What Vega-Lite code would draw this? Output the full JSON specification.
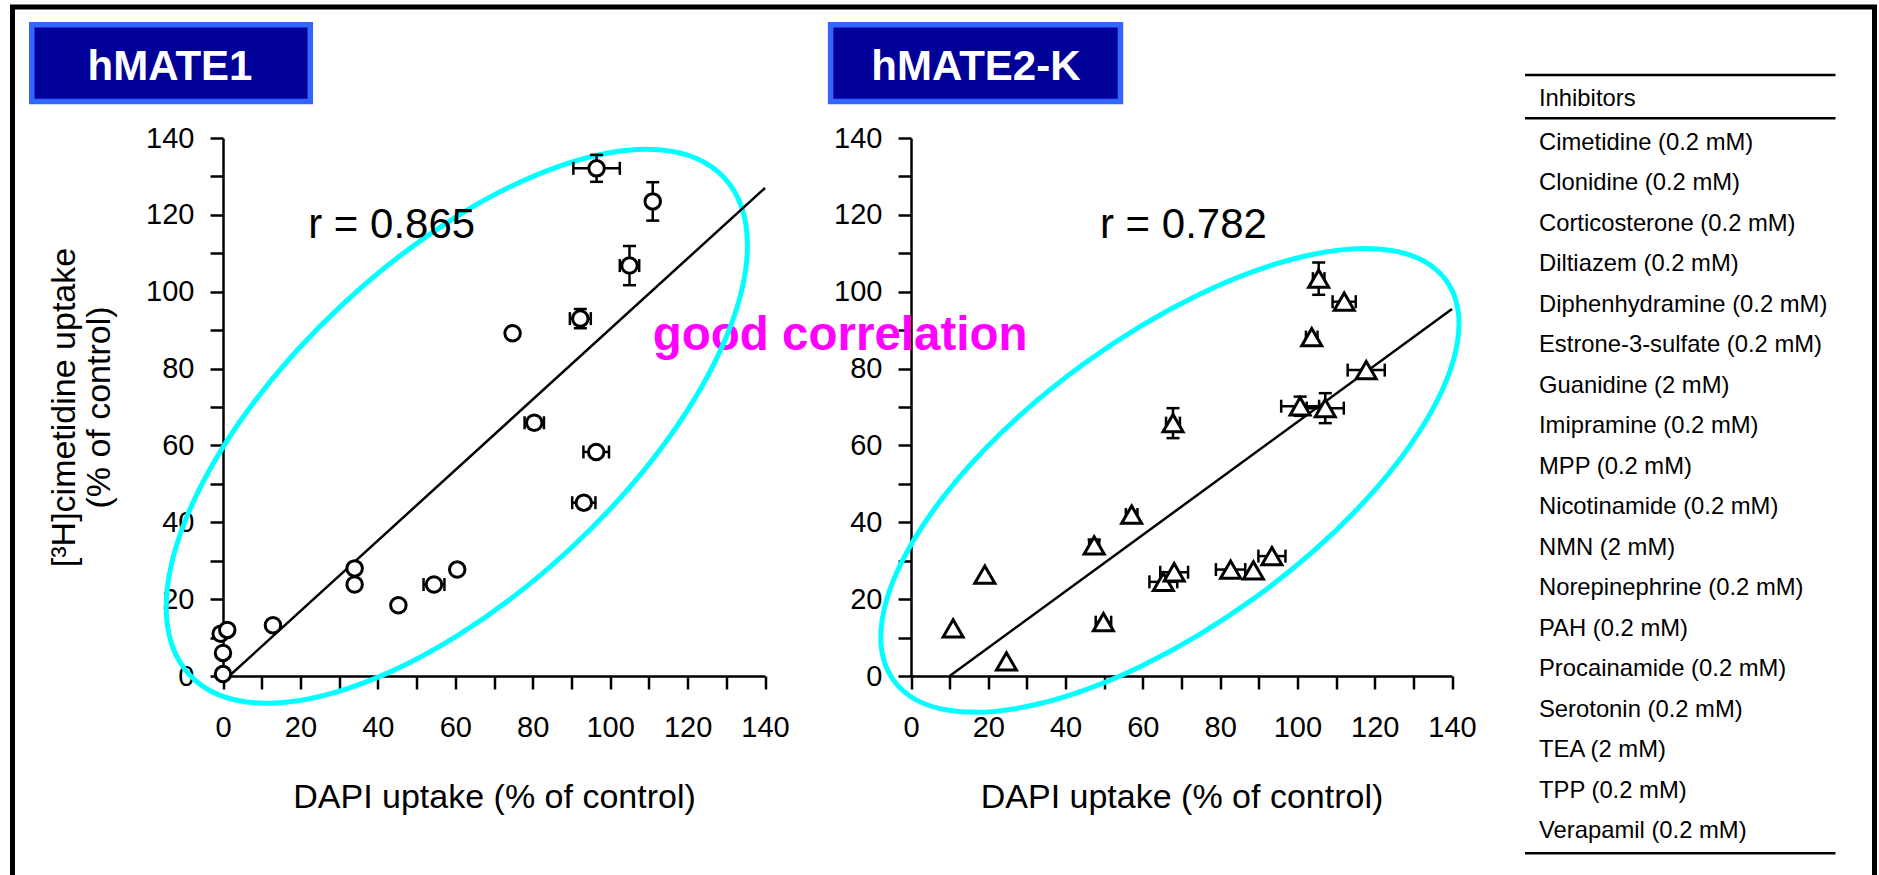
{
  "$schema": "https://vega.github.io/schema/vega-lite/v6.json",
  "autosize": "none",
  "padding": {"left": 12.5, "top": 7, "right": 6, "bottom": 0},
  "width": 1862,
  "height": 900,
  "background": "white",
  "config": {
    "view": {"stroke": "black", "strokeWidth": 5},
    "font": "Liberation Sans",
    "axis": {"domainColor": "black", "tickColor": "black", "labelColor": "black", "titleColor": "black", "labelFont": "Liberation Sans", "titleFont": "Liberation Sans", "grid": false}
  },
  "datasets": {
    "m1": [
      {"x": 0, "y": 0.5}, {"x": 0, "y": 6}, {"x": -0.6, "y": 11}, {"x": 1.1, "y": 12},
      {"x": 12.9, "y": 13.2}, {"x": 34.0, "y": 28.0}, {"x": 34.0, "y": 23.8}, {"x": 45.3, "y": 18.4},
      {"x": 54.5, "y": 23.8}, {"x": 60.5, "y": 27.7}, {"x": 74.8, "y": 89.2}, {"x": 80.4, "y": 65.9},
      {"x": 92.3, "y": 93.0}, {"x": 93.2, "y": 45.1}, {"x": 96.4, "y": 58.3}, {"x": 96.5, "y": 132.1},
      {"x": 105.0, "y": 106.8}, {"x": 111.0, "y": 123.5}
    ],
    "m1v": [
      {"x": 92.3, "lo": 90.5, "hi": 95.5}, {"x": 96.5, "lo": 128.6, "hi": 135.6},
      {"x": 105.0, "lo": 101.7, "hi": 111.9}, {"x": 111.0, "lo": 118.5, "hi": 128.5}
    ],
    "m1h": [
      {"y": 23.8, "lo": 51.8, "hi": 57.2}, {"y": 65.9, "lo": 77.9, "hi": 82.9}, {"y": 93.0, "lo": 89.6, "hi": 95.0},
      {"y": 45.1, "lo": 90.2, "hi": 96.2}, {"y": 58.3, "lo": 93.1, "hi": 99.7}, {"y": 132.1, "lo": 90.5, "hi": 102.5},
      {"y": 106.8, "lo": 102.5, "hi": 107.5}
    ],
    "m2": [
      {"x": 10.9, "y": 12.4}, {"x": 19.1, "y": 26.4}, {"x": 24.7, "y": 3.8}, {"x": 47.4, "y": 34.0},
      {"x": 49.8, "y": 14.0}, {"x": 57.1, "y": 42.0}, {"x": 67.8, "y": 65.8}, {"x": 65.3, "y": 24.5},
      {"x": 68.1, "y": 27.0}, {"x": 82.7, "y": 27.7}, {"x": 88.6, "y": 27.5}, {"x": 93.4, "y": 31.2},
      {"x": 100.7, "y": 70.2}, {"x": 107.2, "y": 69.7}, {"x": 103.7, "y": 88.2}, {"x": 105.5, "y": 103.4},
      {"x": 112.1, "y": 97.4}, {"x": 117.8, "y": 79.6}
    ],
    "m2v": [
      {"x": 47.4, "lo": 32.5, "hi": 35.5}, {"x": 67.8, "lo": 61.9, "hi": 69.7}, {"x": 100.7, "lo": 67.7, "hi": 72.7},
      {"x": 107.2, "lo": 65.8, "hi": 73.6}, {"x": 105.5, "lo": 99.2, "hi": 107.6}
    ],
    "m2h": [
      {"y": 34.0, "lo": 46.1, "hi": 48.7}, {"y": 14.0, "lo": 47.8, "hi": 51.8}, {"y": 42.0, "lo": 55.6, "hi": 58.6},
      {"y": 65.8, "lo": 66.0, "hi": 69.6}, {"y": 24.5, "lo": 61.7, "hi": 68.9}, {"y": 27.0, "lo": 64.5, "hi": 71.7},
      {"y": 27.7, "lo": 78.9, "hi": 86.5}, {"y": 31.2, "lo": 89.9, "hi": 96.9}, {"y": 70.2, "lo": 95.8, "hi": 105.6},
      {"y": 69.7, "lo": 102.4, "hi": 112.0}, {"y": 88.2, "lo": 102.2, "hi": 105.2}, {"y": 103.4, "lo": 104.0, "hi": 107.0},
      {"y": 97.4, "lo": 109.1, "hi": 115.1}, {"y": 79.6, "lo": 113.0, "hi": 122.6}
    ],
    "table": [
      {"order": 1, "name": "Cimetidine (0.2 mM)"},
      {"order": 2, "name": "Clonidine (0.2 mM)"},
      {"order": 3, "name": "Corticosterone (0.2 mM)"},
      {"order": 4, "name": "Diltiazem (0.2 mM)"},
      {"order": 5, "name": "Diphenhydramine (0.2 mM)"},
      {"order": 6, "name": "Estrone-3-sulfate (0.2 mM)"},
      {"order": 7, "name": "Guanidine (2 mM)"},
      {"order": 8, "name": "Imipramine (0.2 mM)"},
      {"order": 9, "name": "MPP (0.2 mM)"},
      {"order": 10, "name": "Nicotinamide (0.2 mM)"},
      {"order": 11, "name": "NMN (2 mM)"},
      {"order": 12, "name": "Norepinephrine (0.2 mM)"},
      {"order": 13, "name": "PAH (0.2 mM)"},
      {"order": 14, "name": "Procainamide (0.2 mM)"},
      {"order": 15, "name": "Serotonin (0.2 mM)"},
      {"order": 16, "name": "TEA (2 mM)"},
      {"order": 17, "name": "TPP (0.2 mM)"},
      {"order": 18, "name": "Verapamil (0.2 mM)"}
    ]
  },
  "layer": [
    {
      "layer": [
        {
          "data": {"values": [{"label": "good correlation"}]},
          "mark": {"type": "text", "align": "left", "baseline": "alphabetic", "fontSize": 47.5, "fontWeight": "bold", "color": "#FF00FF", "font": "Liberation Sans"},
          "encoding": {
            "x": {"datum": 111, "type": "quantitative", "scale": {"domain": [0, 140], "range": [210.5, 752.5], "nice": false, "zero": false},
              "axis": {"orient": "bottom", "offset": -231, "values": [0,10,20,30,40,50,60,70,80,90,100,110,120,130,140], "labelExpr": "datum.value % 20 === 0 ? datum.label : ''", "tickSize": 13, "tickWidth": 2.5, "domainWidth": 2.5, "labelFontSize": 29, "labelPadding": 24, "labelFlush": false, "labelOverlap": false, "title": "DAPI uptake (% of control)", "titleFontSize": 34, "titleFontWeight": "normal", "titlePadding": 38}},
            "y": {"datum": 84.8, "type": "quantitative", "scale": {"domain": [0, 140], "range": [669, 131], "nice": false, "zero": false},
              "axis": {"orient": "left", "offset": -210.5, "values": [0,10,20,30,40,50,60,70,80,90,100,110,120,130,140], "labelExpr": "datum.value % 20 === 0 ? datum.label : ''", "tickSize": 13, "tickWidth": 2.5, "domainWidth": 2.5, "labelFontSize": 29, "labelPadding": 16, "labelFlush": false, "labelOverlap": false, "title": ["[³H]cimetidine uptake", "(% of control)"], "titleFontSize": 34, "titleFontWeight": "normal", "titlePadding": 29, "titleLineHeight": 35}},
            "text": {"field": "label"}
          }
        },
        {
          "data": {"values": [{"cx": 60.4, "cy": 65}]},
          "mark": {"type": "point", "shape": "M 1 0 C 1 0.2527 0.5523 0.4575 0 0.4575 C -0.5523 0.4575 -1 0.2527 -1 0 C -1 -0.2527 -0.5523 -0.4575 0 -0.4575 C 0.5523 -0.4575 1 -0.2527 1 0 Z", "size": 532900, "angle": 317.1, "filled": false, "stroke": "#00FFFF", "strokeWidth": 5, "opacity": 1},
          "encoding": {
            "x": {"field": "cx", "type": "quantitative", "scale": {"domain": [0, 140], "range": [210.5, 752.5], "nice": false, "zero": false}},
            "y": {"field": "cy", "type": "quantitative", "scale": {"domain": [0, 140], "range": [669, 131], "nice": false, "zero": false}}
          }
        },
        {
          "data": {"values": [{"x": 1.6, "y": 0}, {"x": 140, "y": 127}]},
          "mark": {"type": "line", "color": "black", "strokeWidth": 2.5},
          "encoding": {
            "x": {"field": "x", "type": "quantitative"},
            "y": {"field": "y", "type": "quantitative"}
          }
        },
        {
          "data": {"name": "m1v"},
          "mark": {"type": "rule", "color": "black", "strokeWidth": 2.5},
          "encoding": {"x": {"field": "x", "type": "quantitative"}, "y": {"field": "lo", "type": "quantitative"}, "y2": {"field": "hi"}}
        },
        {
          "data": {"name": "m1v"},
          "mark": {"type": "tick", "orient": "horizontal", "color": "black", "size": 13, "thickness": 2.5, "opacity": 1},
          "encoding": {"x": {"field": "x", "type": "quantitative"}, "y": {"field": "lo", "type": "quantitative"}}
        },
        {
          "data": {"name": "m1v"},
          "mark": {"type": "tick", "orient": "horizontal", "color": "black", "size": 13, "thickness": 2.5, "opacity": 1},
          "encoding": {"x": {"field": "x", "type": "quantitative"}, "y": {"field": "hi", "type": "quantitative"}}
        },
        {
          "data": {"name": "m1h"},
          "mark": {"type": "rule", "color": "black", "strokeWidth": 2.5},
          "encoding": {"y": {"field": "y", "type": "quantitative"}, "x": {"field": "lo", "type": "quantitative"}, "x2": {"field": "hi"}}
        },
        {
          "data": {"name": "m1h"},
          "mark": {"type": "tick", "orient": "vertical", "color": "black", "size": 13, "thickness": 2.5, "opacity": 1},
          "encoding": {"y": {"field": "y", "type": "quantitative"}, "x": {"field": "lo", "type": "quantitative"}}
        },
        {
          "data": {"name": "m1h"},
          "mark": {"type": "tick", "orient": "vertical", "color": "black", "size": 13, "thickness": 2.5, "opacity": 1},
          "encoding": {"y": {"field": "y", "type": "quantitative"}, "x": {"field": "hi", "type": "quantitative"}}
        },
        {
          "data": {"name": "m1"},
          "mark": {"type": "point", "shape": "circle", "size": 240, "filled": true, "fill": "white", "stroke": "black", "strokeWidth": 3, "opacity": 1},
          "encoding": {"x": {"field": "x", "type": "quantitative"}, "y": {"field": "y", "type": "quantitative"}}
        },
        {
          "data": {"values": [{"label": "r = 0.865"}]},
          "mark": {"type": "text", "align": "left", "baseline": "alphabetic", "fontSize": 42, "color": "black"},
          "encoding": {"x": {"datum": 22, "type": "quantitative"}, "y": {"datum": 114, "type": "quantitative"}, "text": {"field": "label"}}
        },
        {
          "data": {"values": [{"label": "hMATE1"}]},
          "mark": {"type": "rect", "fill": "#000099", "stroke": "#3366FF", "strokeWidth": 5.5},
          "encoding": {"x": {"datum": -49.4, "type": "quantitative"}, "x2": {"datum": 22.55}, "y": {"datum": 169.5, "type": "quantitative"}, "y2": {"datum": 149.5}}
        },
        {
          "data": {"values": [{"label": "hMATE1"}]},
          "mark": {"type": "text", "align": "center", "baseline": "alphabetic", "fontSize": 42, "fontWeight": "bold", "color": "white"},
          "encoding": {"x": {"datum": -13.7, "type": "quantitative"}, "y": {"datum": 155.1, "type": "quantitative"}, "text": {"field": "label"}}
        }
      ]
    },
    {
      "layer": [
        {
          "data": {"values": [{"cx": 67, "cy": 50.9}]},
          "mark": {"type": "point", "shape": "M 1 0 C 1 0.2347 0.5523 0.425 0 0.425 C -0.5523 0.425 -1 0.2347 -1 0 C -1 -0.2347 -0.5523 -0.425 0 -0.425 C 0.5523 -0.425 1 -0.2347 1 0 Z", "size": 465124, "angle": 324.1, "filled": false, "stroke": "#00FFFF", "strokeWidth": 5, "opacity": 1},
          "encoding": {
            "x": {"field": "cx", "type": "quantitative", "scale": {"domain": [0, 140], "range": [898.5, 1439.5], "nice": false, "zero": false},
              "axis": {"orient": "bottom", "offset": -231, "values": [0,10,20,30,40,50,60,70,80,90,100,110,120,130,140], "labelExpr": "datum.value % 20 === 0 ? datum.label : ''", "tickSize": 13, "tickWidth": 2.5, "domainWidth": 2.5, "labelFontSize": 29, "labelPadding": 24, "labelFlush": false, "labelOverlap": false, "title": "DAPI uptake (% of control)", "titleFontSize": 34, "titleFontWeight": "normal", "titlePadding": 38}},
            "y": {"field": "cy", "type": "quantitative", "scale": {"domain": [0, 140], "range": [669, 131], "nice": false, "zero": false},
              "axis": {"orient": "left", "offset": -898.5, "values": [0,10,20,30,40,50,60,70,80,90,100,110,120,130,140], "labelExpr": "datum.value % 20 === 0 ? datum.label : ''", "tickSize": 13, "tickWidth": 2.5, "domainWidth": 2.5, "labelFontSize": 29, "labelPadding": 16, "labelFlush": false, "labelOverlap": false, "title": null}}
          }
        },
        {
          "data": {"values": [{"x": 10, "y": 0}, {"x": 140, "y": 95.5}]},
          "mark": {"type": "line", "color": "black", "strokeWidth": 2.5},
          "encoding": {"x": {"field": "x", "type": "quantitative"}, "y": {"field": "y", "type": "quantitative"}}
        },
        {
          "data": {"name": "m2v"},
          "mark": {"type": "rule", "color": "black", "strokeWidth": 2.5},
          "encoding": {"x": {"field": "x", "type": "quantitative"}, "y": {"field": "lo", "type": "quantitative"}, "y2": {"field": "hi"}}
        },
        {
          "data": {"name": "m2v"},
          "mark": {"type": "tick", "orient": "horizontal", "color": "black", "size": 13, "thickness": 2.5, "opacity": 1},
          "encoding": {"x": {"field": "x", "type": "quantitative"}, "y": {"field": "lo", "type": "quantitative"}}
        },
        {
          "data": {"name": "m2v"},
          "mark": {"type": "tick", "orient": "horizontal", "color": "black", "size": 13, "thickness": 2.5, "opacity": 1},
          "encoding": {"x": {"field": "x", "type": "quantitative"}, "y": {"field": "hi", "type": "quantitative"}}
        },
        {
          "data": {"name": "m2h"},
          "mark": {"type": "rule", "color": "black", "strokeWidth": 2.5},
          "encoding": {"y": {"field": "y", "type": "quantitative"}, "x": {"field": "lo", "type": "quantitative"}, "x2": {"field": "hi"}}
        },
        {
          "data": {"name": "m2h"},
          "mark": {"type": "tick", "orient": "vertical", "color": "black", "size": 13, "thickness": 2.5, "opacity": 1},
          "encoding": {"y": {"field": "y", "type": "quantitative"}, "x": {"field": "lo", "type": "quantitative"}}
        },
        {
          "data": {"name": "m2h"},
          "mark": {"type": "tick", "orient": "vertical", "color": "black", "size": 13, "thickness": 2.5, "opacity": 1},
          "encoding": {"y": {"field": "y", "type": "quantitative"}, "x": {"field": "hi", "type": "quantitative"}}
        },
        {
          "data": {"name": "m2"},
          "mark": {"type": "point", "shape": "triangle-up", "size": 400, "filled": true, "fill": "white", "stroke": "black", "strokeWidth": 3, "opacity": 1},
          "encoding": {"x": {"field": "x", "type": "quantitative"}, "y": {"field": "y", "type": "quantitative"}}
        },
        {
          "data": {"values": [{"label": "r = 0.782"}]},
          "mark": {"type": "text", "align": "left", "baseline": "alphabetic", "fontSize": 42, "color": "black"},
          "encoding": {"x": {"datum": 48.9, "type": "quantitative"}, "y": {"datum": 114, "type": "quantitative"}, "text": {"field": "label"}}
        },
        {
          "data": {"values": [{"label": "hMATE2-K"}]},
          "mark": {"type": "rect", "fill": "#000099", "stroke": "#3366FF", "strokeWidth": 5.5},
          "encoding": {"x": {"datum": -20.8, "type": "quantitative"}, "x2": {"datum": 54.2}, "y": {"datum": 169.5, "type": "quantitative"}, "y2": {"datum": 149.5}}
        },
        {
          "data": {"values": [{"label": "hMATE2-K"}]},
          "mark": {"type": "text", "align": "center", "baseline": "alphabetic", "fontSize": 42, "fontWeight": "bold", "color": "white"},
          "encoding": {"x": {"datum": 16.8, "type": "quantitative"}, "y": {"datum": 155.1, "type": "quantitative"}, "text": {"field": "label"}}
        }
      ]
    },
    {
      "layer": [
        {
          "data": {"name": "table"},
          "mark": {"type": "text", "align": "left", "baseline": "alphabetic", "fontSize": 23.8, "color": "black", "dx": 14},
          "encoding": {
            "x": {"datum": 0, "type": "quantitative", "scale": {"domain": [0, 1], "range": [1512.5, 1823], "nice": false, "zero": false}, "axis": null},
            "y": {"field": "order", "type": "quantitative", "scale": {"domain": [1, 18], "range": [143, 831], "nice": false, "zero": false}, "axis": null},
            "text": {"field": "name"}
          }
        },
        {
          "data": {"values": [{"order": 0, "name": "Inhibitors"}]},
          "mark": {"type": "text", "align": "left", "baseline": "alphabetic", "fontSize": 23.8, "color": "black", "dx": 14, "dy": -4},
          "encoding": {
            "x": {"datum": 0, "type": "quantitative"},
            "y": {"field": "order", "type": "quantitative"},
            "text": {"field": "name"}
          }
        },
        {
          "data": {"values": [{"at": -0.853}, {"at": 0.217}, {"at": 18.378}]},
          "mark": {"type": "rule", "color": "black", "strokeWidth": 2.5},
          "encoding": {
            "x": {"datum": 0, "type": "quantitative"},
            "x2": {"datum": 1},
            "y": {"field": "at", "type": "quantitative"}
          }
        }
      ]
    }
  ],
  "resolve": {"scale": {"x": "independent", "y": "independent"}}
}
